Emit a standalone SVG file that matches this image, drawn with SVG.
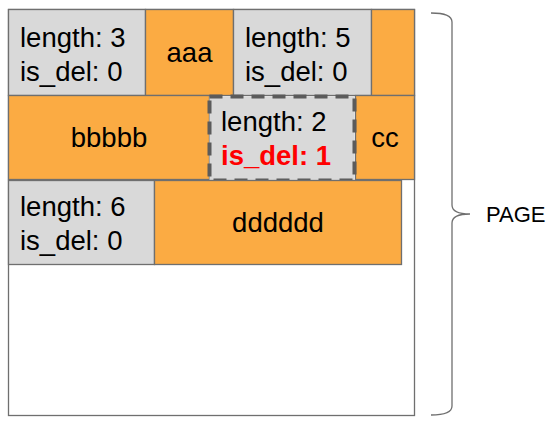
<svg xmlns="http://www.w3.org/2000/svg" width="555" height="427" viewBox="0 0 555 427">
<style>
.g{fill:#d9d9d9;stroke:#6f6f6f;stroke-width:1.3}
.o{fill:#fbab43;stroke:#6f6f6f;stroke-width:1.3}
.t{font-family:"Liberation Sans",Arial,sans-serif;font-size:27.5px;fill:#000}
.c{text-anchor:middle}
.r{fill:#ff0000;font-weight:bold}
</style>
<rect id="page" x="8.5" y="9.5" width="406" height="406" fill="#fff" stroke="#6f6f6f" stroke-width="1.3"/>
<g id="h1"><rect class="g" x="8.5" y="9.5" width="137" height="86"/><text class="t" x="20" y="47">length: 3</text><text class="t" x="20" y="81">is_del: 0</text></g>
<g id="aaa"><rect class="o" x="145.5" y="9.5" width="88" height="86"/><text class="t c" x="189.5" y="62">aaa</text></g>
<g id="h2"><rect class="g" x="233.5" y="9.5" width="138" height="86"/><text class="t" x="245" y="47">length: 5</text><text class="t" x="245" y="81">is_del: 0</text></g>
<g id="b5"><rect class="o" x="371.5" y="9.5" width="43" height="86"/></g>
<g id="bbbbb"><rect class="o" x="8.5" y="95.5" width="201" height="84"/><text class="t c" x="109" y="147">bbbbb</text></g>
<g id="cc"><rect class="o" x="355.5" y="95.5" width="59" height="84"/><text class="t c" x="385" y="147">cc</text></g>
<g id="h3"><rect x="209.5" y="96.5" width="145" height="84" fill="#d9d9d9" stroke="#5b5b5b" stroke-width="4" stroke-dasharray="13,8"/><text class="t" x="221" y="131">length: 2</text><text class="t r" x="221" y="165">is_del: 1</text></g>
<g id="h4"><rect class="g" x="8.5" y="180.5" width="146" height="84"/><text class="t" x="20" y="216">length: 6</text><text class="t" x="20" y="250">is_del: 0</text></g>
<g id="dddddd"><rect class="o" x="154.5" y="180.5" width="247" height="84"/><text class="t c" x="278" y="232">dddddd</text></g>
<g id="connectors"><path d="M431,13 Q452,13 452,22 L452,205 Q452,214 470,214 Q452,214 452,223 L452,406 Q452,415 431,415" fill="none" stroke="#6f6f6f" stroke-width="1.3"/></g>
<g id="label"><text x="486" y="222" font-family="'Liberation Sans',Arial,sans-serif" font-size="22" fill="#000">PAGE</text></g>
</svg>
